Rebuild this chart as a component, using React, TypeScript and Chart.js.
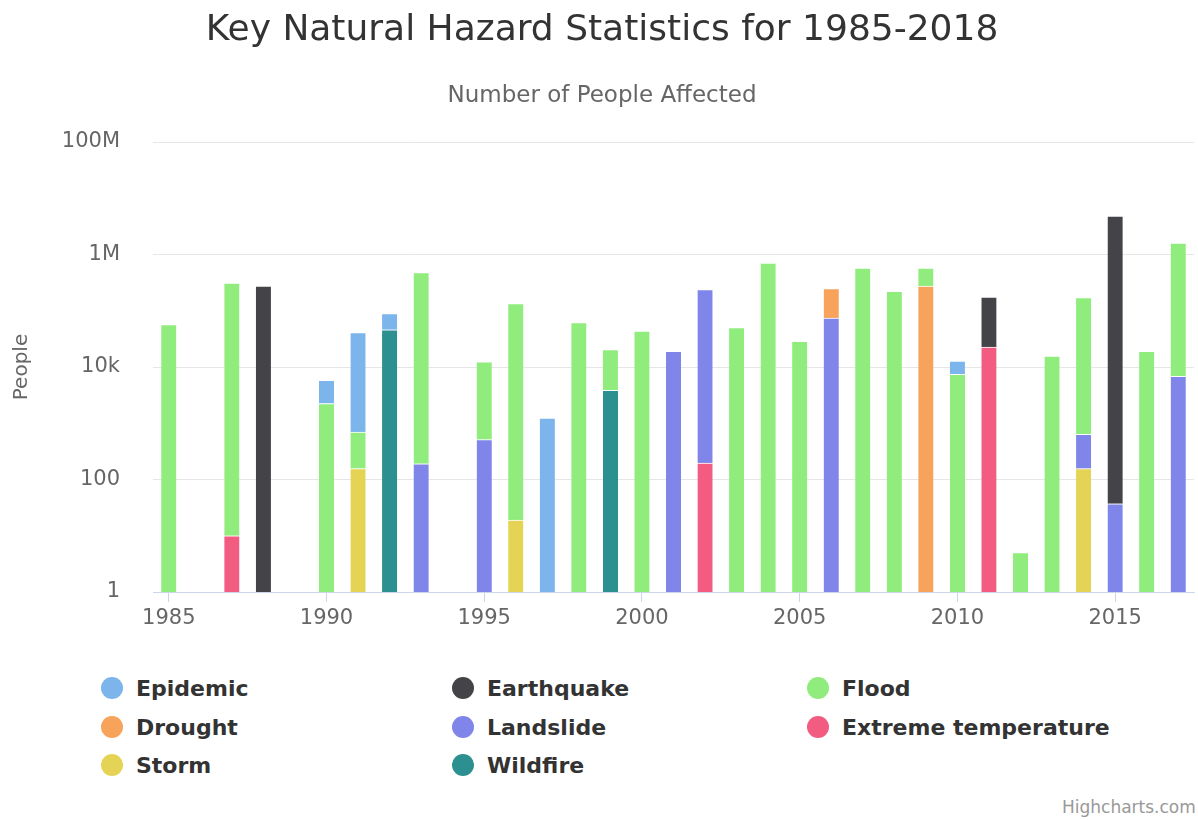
import React, { useEffect, useRef } from 'react';
import { Chart, registerables } from 'chart.js';

Chart.register(...registerables);

const years = [
  '1985', '1986', '1987', '1988', '1989',
  '1990', '1991', '1992', '1993', '1994',
  '1995', '1996', '1997', '1998', '1999',
  '2000', '2001', '2002', '2003', '2004',
  '2005', '2006', '2007', '2008', '2009',
  '2010', '2011', '2012', '2013', '2014',
  '2015', '2016', '2017',
];

const xLabelYears = ['1985', '1990', '1995', '2000', '2005', '2010', '2015'];

const epidemic = [
  null, null, null, null, null,
  3570, 40200, 43000, null, null,
  null, null, 1240, null, null,
  null, null, null, null, null,
  null, null, null, null, null,
  5400, null, null, null, null,
  null, null, null,
];

const earthquake = [
  null, null, null, 275000, null,
  null, null, null, null, null,
  null, null, null, null, null,
  null, null, null, null, null,
  null, null, null, null, null,
  null, 152000, null, null, null,
  4830000, null, null,
];

const flood = [
  57000, null, 311000, null, null,
  2235, 543, null, 476000, null,
  11800, 134000, null, 61500, 16500,
  43700, null, null, 50000, 706000,
  28600, null, 575000, 222000, 300000,
  7400, null, 5, 15700, 170000,
  null, 19000, 1590000,
];

const drought = [
  null, null, null, null, null,
  null, null, null, null, null,
  null, null, null, null, null,
  null, null, null, null, null,
  null, 174000, null, null, 275000,
  null, null, null, null, null,
  null, null, null,
];

const landslide = [
  null, null, null, null, null,
  null, null, null, 190, null,
  510, null, null, null, null,
  null, 19000, 238000, null, null,
  null, 74000, null, null, null,
  null, null, null, null, 481,
  37, null, 6800,
];

const extremeTemperature = [
  null, null, 10, null, null,
  null, null, null, null, null,
  null, null, null, null, null,
  null, null, 196, null, null,
  null, null, null, null, null,
  null, 22700, null, null, null,
  null, null, null,
];

const storm = [
  null, null, null, null, null,
  null, 156, null, null, null,
  null, 19, null, null, null,
  null, null, null, null, null,
  null, null, null, null, null,
  null, null, null, null, 156,
  null, null, null,
];

const wildfire = [
  null, null, null, null, null,
  null, null, 46000, null, null,
  null, null, null, null, 3850,
  null, null, null, null, null,
  null, null, null, null, null,
  null, null, null, null, null,
  null, null, null,
];

const yTickValues = [1, 100, 10000, 1000000, 100000000];
const yTickLabels = ['1', '100', '10k', '1M', '100M'];

// legend order (top of stack first)
const seriesNames = ['Epidemic', 'Earthquake', 'Flood', 'Drought', 'Landslide', 'Extreme temperature', 'Storm', 'Wildfire'];
const seriesColors = ['#7cb5ec', '#434348', '#90ed7d', '#f7a35c', '#8085e9', '#f15c80', '#e4d354', '#2b908f'];
const seriesData = [epidemic, earthquake, flood, drought, landslide, extremeTemperature, storm, wildfire];

const FONT = '"DejaVu Sans", sans-serif';

export default function App() {
  const canvasRef = useRef<HTMLCanvasElement | null>(null);

  useEffect(() => {
    if (!canvasRef.current) return;
    // Chart.js stacks the first dataset at the bottom, so reverse the legend order
    const order = [7, 6, 5, 4, 3, 2, 1, 0];
    const datasets = order.map((i) => ({
      label: seriesNames[i],
      data: seriesData[i],
      backgroundColor: seriesColors[i],
      borderColor: '#ffffff',
      borderWidth: { top: 1, left: 0, right: 0, bottom: 0 },
      borderSkipped: false as any,
      barThickness: 15,
    }));

    const chart = new Chart(canvasRef.current, {
      type: 'bar',
      data: { labels: years, datasets },
      options: {
        animation: false,
        responsive: true,
        maintainAspectRatio: false,
        layout: { padding: { left: 10, right: 4, top: 0, bottom: 0 } },
        plugins: {
          legend: { display: false },
          tooltip: { enabled: false },
          title: {
            display: true,
            text: 'Key Natural Hazard Statistics for 1985-2018',
            color: '#333333',
            font: { family: FONT, size: 36, weight: 'normal' },
            padding: { top: 9, bottom: 29.7 },
          },
          subtitle: {
            display: true,
            text: 'Number of People Affected',
            color: '#666666',
            font: { family: FONT, size: 23, weight: 'normal' },
            padding: { top: 0, bottom: 32.5 },
          },
        },
        scales: {
          x: {
            stacked: true,
            offset: true,
            border: { display: true, color: '#ccd6eb', width: 1 },
            grid: {
              display: true,
              offset: false,
              drawOnChartArea: false,
              drawTicks: true,
              tickLength: 10,
              color: (ctx: any) => (xLabelYears.includes(years[ctx.index]) ? '#ccd6eb' : 'rgba(0,0,0,0)'),
            },
            ticks: {
              autoSkip: false,
              maxRotation: 0,
              minRotation: 0,
              padding: 4,
              color: '#666666',
              font: { family: FONT, size: 21 },
              callback: (_v: any, i: number) => (xLabelYears.includes(years[i]) ? years[i] : ''),
            },
            afterFit: (scale: any) => {
              scale.height = 58;
            },
          },
          y: {
            type: 'logarithmic',
            stacked: true,
            min: 1,
            max: 100000000,
            border: { display: false },
            grid: { color: '#e6e6e6', lineWidth: 1, drawTicks: false, tickLength: 0 },
            afterBuildTicks: (scale: any) => {
              scale.ticks = yTickValues.map((v) => ({ value: v }));
            },
            ticks: {
              padding: 33,
              color: '#666666',
              font: { family: FONT, size: 21 },
              callback: (v: any) => {
                const idx = yTickValues.indexOf(Number(v));
                return idx >= 0 ? yTickLabels[idx] : '';
              },
            },
            title: {
              display: true,
              text: 'People',
              color: '#666666',
              font: { family: FONT, size: 20 },
              padding: { top: 0, bottom: 0 },
            },
            afterFit: (scale: any) => {
              scale.width = 143;
            },
          },
        },
      } as any,
    });
    return () => chart.destroy();
  }, []);

  const colX = [112, 463, 818];
  const rowY = [688, 727, 765];

  return (
    <div style={{ position: 'absolute', left: 0, top: 0, width: 1198, height: 820, overflow: 'hidden', background: '#ffffff' }}>
      <div style={{ position: 'absolute', left: 0, top: 0, width: 1198, height: 650 }}>
        <canvas ref={canvasRef} />
      </div>
      {seriesNames.map((name, i) => {
        const col = i % 3;
        const row = Math.floor(i / 3);
        return (
          <div
            key={name}
            style={{
              position: 'absolute',
              left: colX[col] - 11,
              top: rowY[row] - 14,
              height: 28,
              display: 'flex',
              alignItems: 'center',
              whiteSpace: 'nowrap',
              fontFamily: FONT,
              fontWeight: 'bold',
              fontSize: 22,
              color: '#333333',
            }}
          >
            <span style={{ display: 'inline-block', width: 22, height: 22, borderRadius: 11, background: seriesColors[i], marginRight: 13 }} />
            <span>{name}</span>
          </div>
        );
      })}
      <div
        style={{
          position: 'absolute',
          left: 1062,
          top: 797,
          whiteSpace: 'nowrap',
          fontFamily: FONT,
          fontSize: 17,
          color: '#999999',
        }}
      >
        Highcharts.com
      </div>
    </div>
  );
}
